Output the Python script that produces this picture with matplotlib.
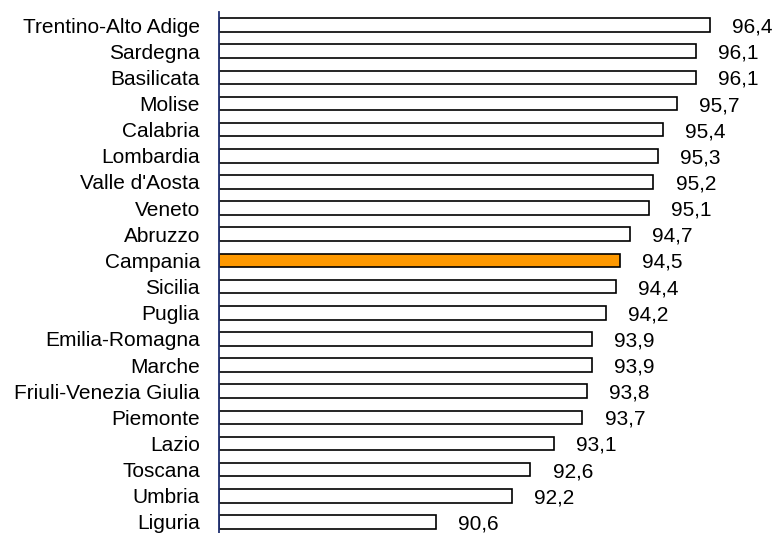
import matplotlib
matplotlib.use("Agg")
import matplotlib.pyplot as plt
import numpy as np

plt.rcParams['font.family'] = ['Liberation Sans', 'DejaVu Sans']

regions = ["Trentino-Alto Adige", "Sardegna", "Basilicata", "Molise", "Calabria",
           "Lombardia", "Valle d'Aosta", "Veneto", "Abruzzo", "Campania",
           "Sicilia", "Puglia", "Emilia-Romagna", "Marche", "Friuli-Venezia Giulia",
           "Piemonte", "Lazio", "Toscana", "Umbria", "Liguria"]
values = [96.4, 96.1, 96.1, 95.7, 95.4, 95.3, 95.2, 95.1, 94.7, 94.5,
          94.4, 94.2, 93.9, 93.9, 93.8, 93.7, 93.1, 92.6, 92.2, 90.6]
highlight = "Campania"

x0 = 86.0
fig = plt.figure(figsize=(7.74, 5.33), dpi=100)
ax = fig.add_axes([218.7/774, -2/533, 1 - 218.7/774, 523/533])

n = len(regions)
y = np.arange(n)
colors = ['#FF9900' if r == highlight else 'white' for r in regions]
ax.barh(y, [v - x0 for v in values], left=x0, height=0.52, color=colors,
        edgecolor='black', linewidth=1.2, zorder=2)

for yi, v in zip(y, values):
    ax.annotate(f"{v:.1f}".replace('.', ','), xy=(v, yi), xytext=(16, 0),
                textcoords='offset points', ha='left', va='center_baseline',
                fontsize=15)

ax.set_xlim(x0, x0 + (774 - 218.7) / 47.24)
ax.set_ylim(n - 0.5, -0.5)
ax.set_yticks(y)
ax.set_yticklabels(regions, fontsize=15)
ax.tick_params(axis='y', length=0, pad=13.5)
ax.set_xticks([])
for s in ['top', 'right', 'bottom']:
    ax.spines[s].set_visible(False)
ax.spines['left'].set_color('#1F2F6F')
ax.spines['left'].set_linewidth(1.3)
ax.spines['left'].set_zorder(3)

fig.savefig("out.png", dpi=100)
